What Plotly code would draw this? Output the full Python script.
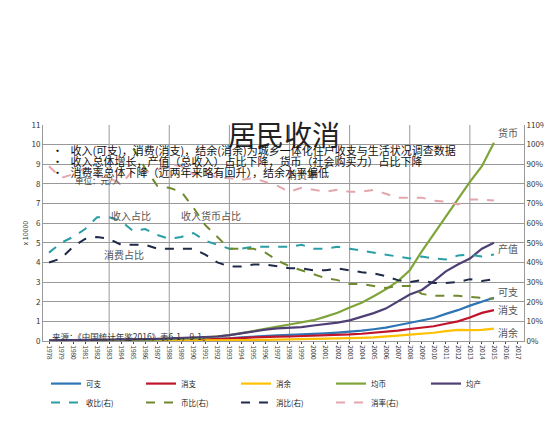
import plotly.graph_objects as go

years = list(range(1978, 2016))

kezhi = [.017, .02, .025, .028, .032, .036, .042, .048, .054, .06, .072, .08, .09, .1, .115, .14, .19, .23,
         .27, .29, .31, .33, .35, .39, .43, .47, .53, .6, .68, .8, .93, 1.03, 1.17, 1.38, 1.57, 1.8, 2.0, 2.2]
xiaozhi = [.015, .017, .021, .024, .027, .03, .034, .04, .045, .05, .06, .067, .073, .082, .092, .11, .15, .18,
           .21, .22, .23, .245, .26, .285, .31, .335, .37, .42, .47, .53, .61, .67, .75, .88, 1.0, 1.2, 1.43, 1.57]
xiaoyu = [.002, .003, .004, .004, .005, .006, .008, .008, .009, .01, .012, .013, .017, .018, .023, .03, .04, .05,
          .06, .07, .08, .085, .09, .105, .12, .135, .16, .18, .21, .27, .32, .36, .42, .5, .57, .55, .57, .63]
junbi = [.01, .012, .014, .016, .018, .02, .025, .05, .06, .075, .09, .1, .13, .17, .22, .3, .4, .5,
         .63, .73, .84, .95, 1.06, 1.24, 1.44, 1.71, 1.95, 2.28, 2.63, 3.04, 3.6, 4.57, 5.46, 6.35, 7.2, 8.1, 8.9, 10.1]
junchan = [.038, .042, .046, .049, .053, .058, .069, .086, .096, .112, .137, .152, .164, .19, .23, .3, .4, .5,
           .58, .64, .68, .71, .79, .86, .94, 1.05, 1.23, 1.42, 1.65, 2.0, 2.37, 2.6, 3.05, 3.55, 3.9, 4.2, 4.7, 5.0]

shoubi = [45, 50, 53, 57, 63, 63, 61, 56, 57, 54, 52, 53, 55, 51, 49, 47, 47, 48, 48, 48, 48, 49, 47, 47, 48,
          47, 46, 45, 44, 43, 42, 43, 42, 41.5, 43.5, 44, 43, 44]
bibi = [None] * 7 + [98, 88, 79, 78, 76, 68, 59, 53, 47, 47, 47, 45, 41, 38, 36, 34, 32, 31, 29, 29, 28, 27,
                     28, 28, 24, 23, 23, 23, 22.5, 22, 21.5]
xiaobi = [40, 42, 48, 52, 53, 52, 49, 49, 49, 47, 47, 47, 47, 44, 40, 38, 38, 39, 39, 38, 37, 37, 36, 36, 37,
          36, 35, 34.5, 33, 31, 30, 31, 29.5, 29.5, 30, 31.5, 30.5, 31.5]
xiaolv = [89, 83, 85, 88, 84, 83, 80, 87, 86, 87, 90, 89, 85, 86, 83, 83, 82, 83, 81, 79, 76, 78, 77, 76, 77,
          76, 76, 77, 75, 73, 73, 73, 71.5, 71, 69.5, 72, 72, 71.5]

W, H = 552, 421
fig = go.Figure()
solid = [("可支", kezhi, "#2e75b6"), ("消支", xiaozhi, "#c0142b"), ("消余", xiaoyu, "#ffc000"),
         ("均币", junbi, "#7ea43a"), ("均产", junchan, "#4e3f75")]
for name, y, c in solid:
    fig.add_trace(go.Scatter(x=years, y=y, name=name, mode="lines", line=dict(color=c, width=2.2)))
dashed = [("收比(右)", shoubi, "#2a9ea6"), ("币比(右)", bibi, "#6f8a2e"),
          ("消比(右)", xiaobi, "#1f2a48"), ("消率(右)", xiaolv, "#e3a6ad")]
for name, y, c in dashed:
    fig.add_trace(go.Scatter(x=years, y=y, name=name, mode="lines", yaxis="y2",
                             line=dict(color=c, width=2, dash="dash")))

for yr in range(1983, 2018, 5):
    fig.add_shape(type="line", x0=yr, x1=yr, y0=0, y1=11, line=dict(color="#999", width=1), layer="below")

notes = [(1999, 8.5, "消费率"), (1984.8, 6.4, "收入占比"), (1991.5, 6.4, "收入货币占比"), (1984.2, 4.4, "消费占比"),
         (2016.2, 10.6, "货币"), (2016.2, 4.7, "产值"), (2016.2, 2.5, "可支"), (2016.2, 1.6, "消支"), (2016.2, 0.45, "消余")]
for x, y, t in notes:
    fig.add_annotation(x=x, y=y, text=t, showarrow=False, font=dict(size=10, color="#555", family="Noto Sans CJK SC"))


def px_text(x, y, t, size, color="#111", anchor="left"):
    fig.add_annotation(xref="paper", yref="paper", x=x / W, y=1 - y / H, text=t, showarrow=False,
                       xanchor=anchor, yanchor="middle", font=dict(size=size, color=color, family="Noto Sans CJK SC"))


px_text(W / 2, 18, "居民收消", 28, "#222", "center")
bullets = ["•   收入(可支)，消费(消支)，结余(消余)为城乡一体化住户收支与生活状况调查数据",
           "•   收入总体增长，产值（总收入）占比下降，货币（社会购买力）占比下降",
           "•   消费率总体下降（近两年来略有回升），结余水平偏低"]
for i, b in enumerate(bullets):
    px_text(8, 48 + 22 * i, b, 11)
px_text(34, 108, "单位：元/人", 8.5, "#444")
px_text(8, 412, "来源：《中国统计年鉴2016》表6-1，9-1。", 8.5, "#333")

fig.update_layout(
    width=W, height=H, margin=dict(l=35, r=30, t=117, b=58),
    plot_bgcolor="white", paper_bgcolor="white",
    font=dict(family="Noto Sans CJK SC", size=8, color="#333"),
    showlegend=True,
    legend=dict(orientation="h", x=0.5, xanchor="center", y=-0.13, yanchor="top",
                font=dict(size=7.5, color="#222"), entrywidth=50, itemwidth=30, tracegroupgap=0),
    xaxis=dict(range=[1977.5, 2017.5], tickvals=list(range(1978, 2018)), tickangle=90,
               tickfont=dict(size=6.5), showgrid=False, zeroline=False,
               showline=True, linecolor="#999", ticks="outside", ticklen=2),
    yaxis=dict(range=[0, 11], dtick=1, gridcolor="#999", zeroline=False, tickfont=dict(size=8),
               title=dict(text="x 10000", font=dict(size=7), standoff=2), showline=True, linecolor="#999"),
    yaxis2=dict(range=[0, 110], dtick=10, ticksuffix="%", overlaying="y", side="right",
                showgrid=False, zeroline=False, tickfont=dict(size=8), showline=True, linecolor="#999"),
)

fig.write_html("out.html")
